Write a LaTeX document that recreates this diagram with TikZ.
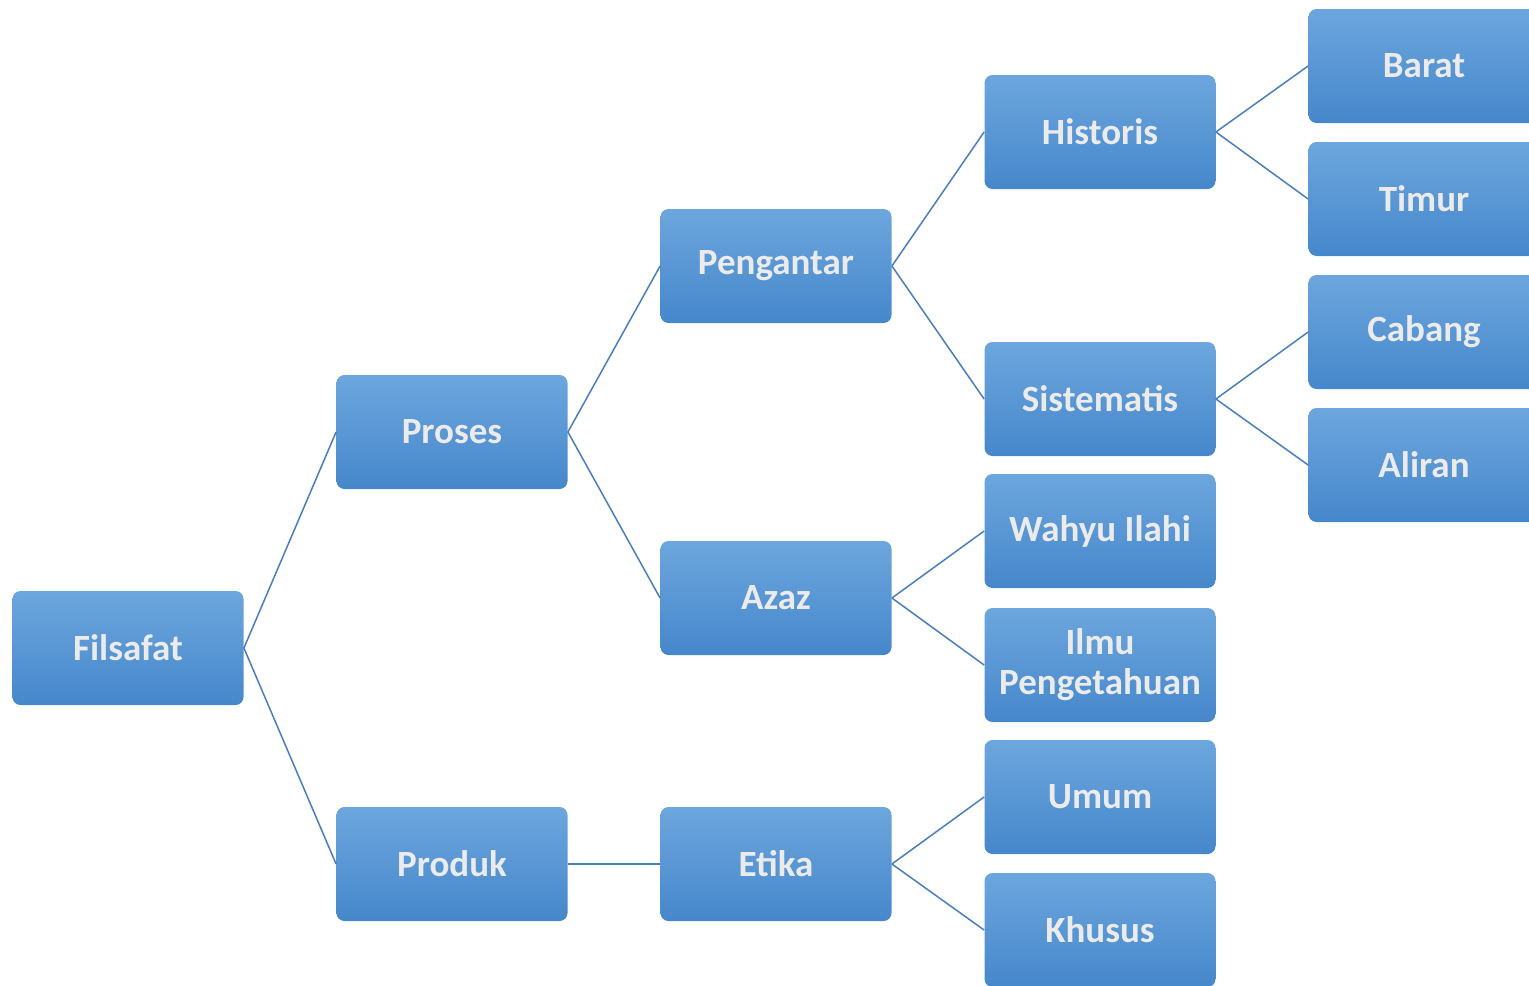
\documentclass[tikz,border=0pt]{standalone}
\usepackage{fontspec}
\setmainfont{Carlito}
\definecolor{boxtop}{HTML}{6CA6DD}
\definecolor{boxmid}{HTML}{4F9BDC}
\definecolor{boxbot}{HTML}{4687CB}
\definecolor{boxtext}{HTML}{EBEBEB}
\definecolor{linkcol}{HTML}{4A7EBB}
\tikzset{
  topic/.style={rectangle, rounded corners=4pt, minimum width=115.5pt, minimum height=57pt,
    inner sep=0pt, top color=boxtop, middle color=boxmid, bottom color=boxbot,
    text=boxtext, align=center,
    font=\fontsize{18.5}{20}\selectfont\bfseries},
  link/.style={draw=linkcol, line width=0.75pt}
}
\begin{document}
\begin{tikzpicture}[x=0.5pt, y=-0.5pt]
\useasboundingbox (0,0) rectangle (1529,985);
\clip (0,0) rectangle (1529,985);
% tree of topics, one column per level
\node[topic] (fil) at (128,648) {Filsafat};
\node[topic] (pro) at (452,432) {Proses};
\node[topic] (prd) at (452,864) {Produk};
\node[topic] (pen) at (776,266) {Pengantar};
\node[topic] (aza) at (776,598) {Azaz};
\node[topic] (eti) at (776,864) {Etika};
\node[topic] (his) at (1100,132) {Historis};
\node[topic] (sis) at (1100,399) {Sistematis};
\node[topic] (wah) at (1100,531) {Wahyu Ilahi};
\node[topic] (ilm) at (1100,665) {Ilmu\\Pengetahuan};
\node[topic] (umu) at (1100,797) {Umum};
\node[topic] (khu) at (1100,930) {Khusus};
\node[topic] (bar) at (1424,66) {Barat};
\node[topic] (tim) at (1424,199) {Timur};
\node[topic] (cab) at (1424,332) {Cabang};
\node[topic] (ali) at (1424,465) {Aliran};
% connectors from each parent's right side to its children
\foreach \p/\c in {fil/pro, fil/prd, pro/pen, pro/aza, prd/eti,
                   pen/his, pen/sis, aza/wah, aza/ilm, eti/umu, eti/khu,
                   his/bar, his/tim, sis/cab, sis/ali}
  \draw[link] (\p.east) -- (\c.west);
\end{tikzpicture}
\end{document}
